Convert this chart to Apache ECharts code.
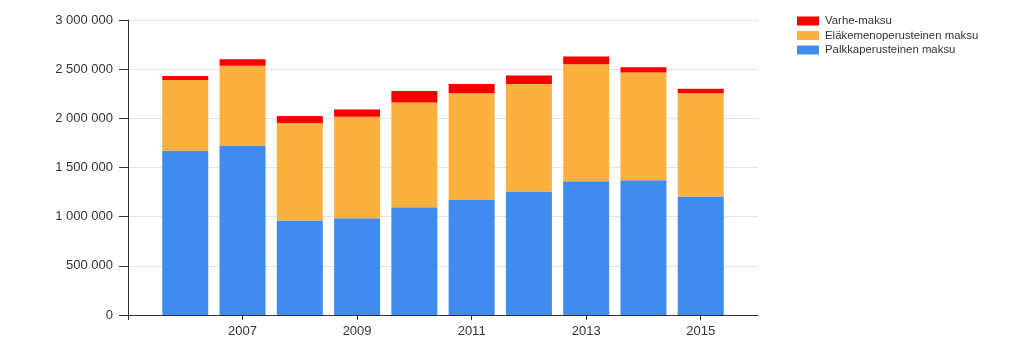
<!DOCTYPE html>
<html>
<head>
<meta charset="utf-8">
<script src="https://cdn.jsdelivr.net/npm/echarts@6/dist/echarts.min.js"></script>
<style>html,body{margin:0;padding:0;background:#fff}#c{width:1024px;height:356px}</style>
</head>
<body>
<div id="c"></div>
<script>
var years = [2006, 2007, 2008, 2009, 2010, 2011, 2012, 2013, 2014, 2015];
var palkka = [1670000, 1725000, 960000, 985000, 1095000, 1170000, 1255000, 1360000, 1370000, 1205000];
var elake = [720000, 810000, 993000, 1030000, 1065000, 1085000, 1095000, 1190000, 1095000, 1050000];
var varhe = [40000, 65000, 71000, 75000, 118000, 95000, 85000, 80000, 55000, 45000];
var seriesNames = ['Varhe-maksu', 'Eläkemenoperusteinen maksu', 'Palkkaperusteinen maksu'];
var yTicks = [0, 500000, 1000000, 1500000, 2000000, 2500000, 3000000];
var xTickYears = [2005, 2007, 2009, 2011, 2013, 2015];
var xLabelYears = [2007, 2009, 2011, 2013, 2015];

// value first so that ECharts stacks the value dimension
function pairs(arr) { return years.map(function (y, i) { return [arr[i], y]; }); }
function fmt(v) { return String(v).replace(/\B(?=(\d{3})+(?!\d))/g, ' '); }

var FONT = '"Liberation Sans", Arial, sans-serif';
var chart = echarts.init(document.getElementById('c'), null, { renderer: 'canvas' });
chart.setOption({
  animation: false,
  textStyle: { fontFamily: FONT },
  grid: { left: 128, top: 20, right: 266, bottom: 41, containLabel: false },
  legend: {
    orient: 'vertical', left: 797, top: 15.5, padding: 0, itemWidth: 22, itemHeight: 9, itemGap: 3.5,
    icon: 'rect',
    data: seriesNames,
    textStyle: { fontFamily: FONT, fontSize: 11.4, color: '#333', padding: [0, 0, 0, 1] }
  },
  xAxis: {
    type: 'value', min: 2005, max: 2016,
    splitLine: { show: false },
    axisLine: { show: true, lineStyle: { color: '#333', width: 1 } },
    axisTick: { show: true, length: 5, customValues: xTickYears, lineStyle: { color: '#333' } },
    axisLabel: {
      fontSize: 13, color: '#333', margin: 10, fontFamily: FONT,
      customValues: xLabelYears,
      formatter: function (v) { return String(v); }
    }
  },
  yAxis: {
    type: 'value', min: yTicks[0], max: yTicks[yTicks.length - 1], interval: 500000,
    axisLine: { show: true, lineStyle: { color: '#333', width: 1 } },
    axisTick: { show: true, length: 9, lineStyle: { color: '#333' } },
    splitLine: { show: true, lineStyle: { color: '#e3e3e3' } },
    axisLabel: { fontSize: 13, color: '#333', margin: 15, fontFamily: FONT, formatter: fmt }
  },
  series: [
    { name: seriesNames[2], type: 'bar', stack: 's', barWidth: 46, encode: { x: 1, y: 0 }, data: pairs(palkka), itemStyle: { color: '#3f8bee' } },
    { name: seriesNames[1], type: 'bar', stack: 's', barWidth: 46, encode: { x: 1, y: 0 }, data: pairs(elake), itemStyle: { color: '#fbb040' } },
    { name: seriesNames[0], type: 'bar', stack: 's', barWidth: 46, encode: { x: 1, y: 0 }, data: pairs(varhe), itemStyle: { color: '#f70000' } }
  ]
});
</script>
</body>
</html>
